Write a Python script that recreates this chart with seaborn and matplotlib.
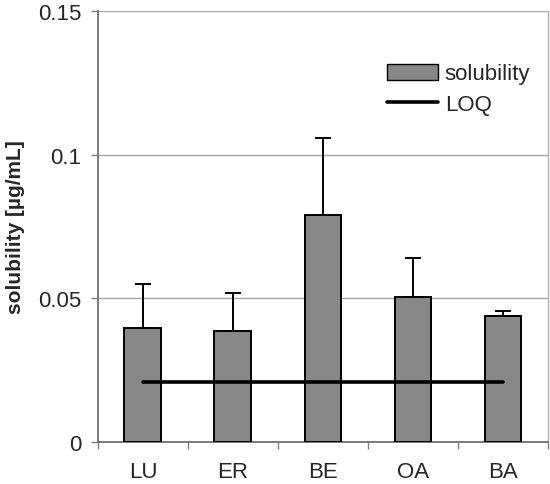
import matplotlib
matplotlib.use("Agg")
import matplotlib.pyplot as plt
import seaborn as sns
import pandas as pd
import numpy as np
from matplotlib.patches import Patch
from matplotlib.lines import Line2D

categories = ["LU", "ER", "BE", "OA", "BA"]
solubility = [0.0397, 0.0386, 0.0791, 0.0505, 0.0439]
error_upper = [0.0153, 0.0133, 0.0266, 0.0135, 0.0017]
loq = 0.021
yticks = [0, 0.05, 0.1, 0.15]
ytick_labels = ["0", "0.05", "0.1", "0.15"]

sns.set_theme(style="white")
plt.rcParams["font.family"] = ["Liberation Sans", "DejaVu Sans"]

df = pd.DataFrame({"compound": categories, "solubility": solubility})

fig = plt.figure(figsize=(5.5, 4.85), dpi=100)
ax = fig.add_axes([0.178, 0.0866, 0.8184, 0.8884])

sns.barplot(data=df, x="compound", y="solubility", ax=ax, color="#878787",
            saturation=1, width=0.41, edgecolor="black", linewidth=1.4, zorder=3)

centers = [p.get_x() + p.get_width() / 2 for p in ax.patches]
heights = [p.get_height() for p in ax.patches]
ax.errorbar(centers, heights, yerr=[np.zeros(len(heights)), error_upper],
            fmt="none", ecolor="black", elinewidth=1.4, capsize=6, capthick=1.4, zorder=2)

ax.plot([centers[0], centers[-1]], [loq, loq], color="black", linewidth=2.6, zorder=4)

ax.set_xlim(-0.5, len(categories) - 0.5)
ax.set_ylim(0, 0.15)
ax.set_yticks(yticks)
ax.set_yticklabels(ytick_labels)
ax.yaxis.grid(True, color="#a6a6a6", linewidth=1.0, zorder=0)
ax.set_axisbelow(True)

ax.set_xticks(np.arange(len(categories)))
ax.set_xticklabels(categories)
ax.set_xticks(np.arange(-0.5, len(categories)), minor=True)
ax.tick_params(axis="x", which="major", length=0, pad=14, labelsize=16)
ax.tick_params(axis="x", which="minor", length=5, width=1, color="#808080", direction="out")
ax.tick_params(axis="y", length=5, width=1, color="#808080", direction="out", labelsize=16, pad=7)
ax.tick_params(axis="y", left=True)
ax.tick_params(axis="x", which="minor", bottom=True)

for s in ["left", "bottom"]:
    ax.spines[s].set_color("#707070")
    ax.spines[s].set_linewidth(1.3)
ax.spines["right"].set_color("#b0b0b0")
ax.spines["right"].set_linewidth(1.0)
ax.spines["top"].set_visible(False)

ax.set_xlabel("")
ax.set_ylabel("solubility [µg/mL]", fontsize=15, fontweight="bold", labelpad=9)

handles = [Patch(facecolor="#878787", edgecolor="black", linewidth=1.0, label="solubility"),
           Line2D([0], [0], color="black", linewidth=2.6, label="LOQ")]
ax.legend(handles=handles, loc="upper right", bbox_to_anchor=(1.005, 0.925), frameon=False,
          fontsize=16, handlelength=2.3, handleheight=0.75, handletextpad=0.3, labelspacing=0.45)

fig.savefig("out.png", dpi=100)
